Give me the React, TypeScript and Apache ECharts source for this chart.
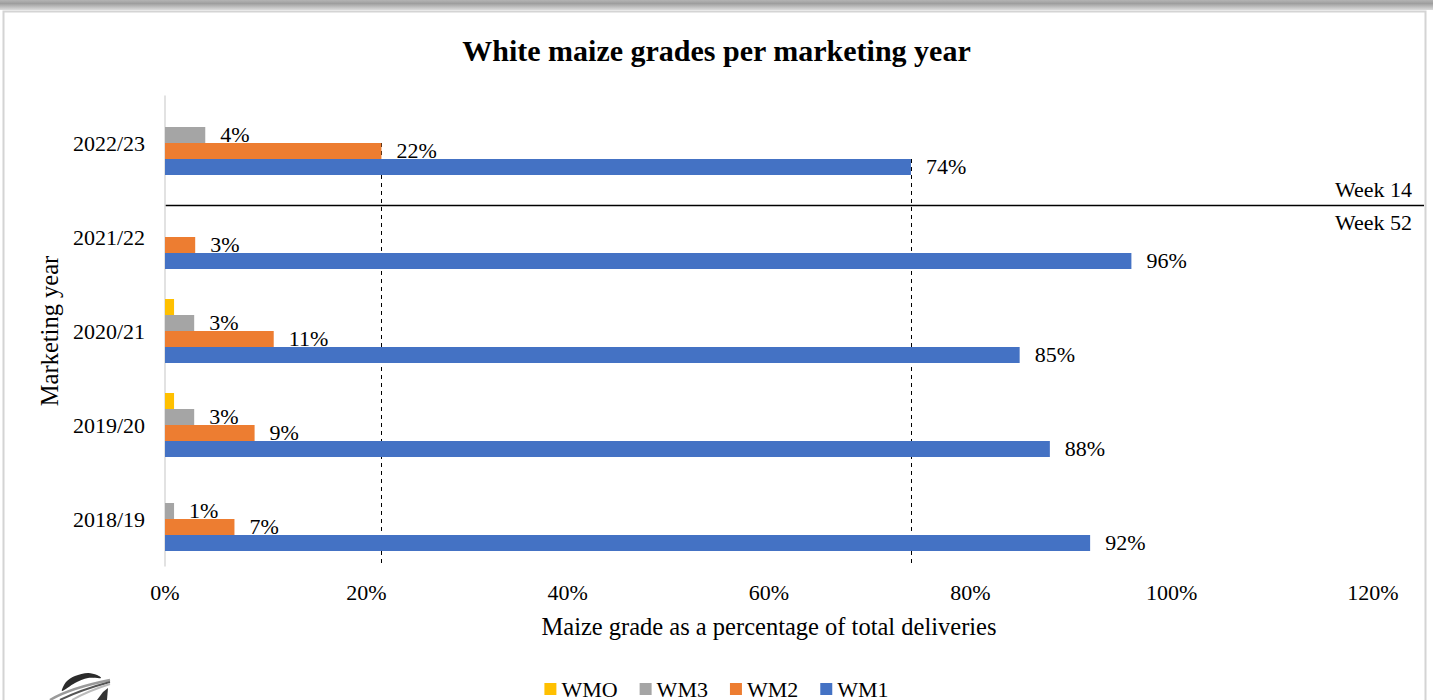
import React, { useEffect, useRef } from 'react';
import * as echarts from 'echarts';

const categories = ['2018/19', '2019/20', '2020/21', '2021/22', '2022/23'];
const wmo = [0, 0.9, 0.9, 0, 0];
const wm3 = [0.9, 2.9, 2.9, 0, 4.0];
const wm2 = [6.9, 8.9, 10.8, 3.0, 21.5];
const wm1 = [91.9, 87.9, 84.9, 96.0, 74.1];
const seriesNames = ['WMO', 'WM3', 'WM2', 'WM1'];
const seriesColors = ['#FFC000', '#A5A5A5', '#ED7D31', '#4472C4'];
const xTicks = [0, 20, 40, 60, 80, 100, 120];
const weekLabels = ['Week 14', 'Week 52'];
const titleText = 'White maize grades per marketing year';
const xName = 'Maize grade as a percentage of total deliveries';
const yName = 'Marketing year';

const FONT = "'Liberation Serif', 'Times New Roman', serif";
const BAR_W = 16;

export default function App() {
  const ref = useRef<HTMLDivElement>(null);

  useEffect(() => {
    if (!ref.current) return;
    const chart = echarts.init(ref.current, undefined, { renderer: 'svg' });
    const data = [wmo, wm3, wm2, wm1];

    const labelFmt = (p: any) => (p.value > 0 ? Math.round(p.value) + '%' : '');

    const option: any = {
      animation: false,
      backgroundColor: '#ffffff',
      title: {
        text: titleText,
        left: 'center',
        top: 30,
        textStyle: { fontFamily: FONT, fontSize: 30, fontWeight: 'bold', color: '#000', lineHeight: 30 },
      },
      legend: {
        data: seriesNames,
        left: 'center',
        top: 673,
        itemWidth: 12,
        itemHeight: 12,
        itemGap: 22,
        icon: 'rect',
        textStyle: { fontFamily: FONT, fontSize: 22, color: '#000' },
      },
      grid: { left: 165, right: 60, top: 96, bottom: 134, containLabel: false },
      xAxis: {
        type: 'value',
        min: xTicks[0],
        max: xTicks[xTicks.length - 1],
        interval: xTicks[1] - xTicks[0],
        axisLine: { show: false },
        axisTick: { show: false },
        splitLine: { show: false },
        axisLabel: { formatter: '{value}%', fontFamily: FONT, fontSize: 22, color: '#000', margin: 15 },
        name: xName,
        nameLocation: 'middle',
        nameGap: 48,
        nameTextStyle: { fontFamily: FONT, fontSize: 24.5, color: '#000' },
      },
      yAxis: {
        type: 'category',
        data: categories,
        axisLine: { show: true, lineStyle: { color: '#d9d9d9', width: 1.5 } },
        axisTick: { show: false },
        splitLine: { show: false },
        axisLabel: { fontFamily: FONT, fontSize: 22, color: '#000', margin: 20 },
        name: yName,
        nameLocation: 'middle',
        nameGap: 102,
        nameRotate: 90,
        nameTextStyle: { fontFamily: FONT, fontSize: 24.5, color: '#000' },
      },
      series: seriesNames.map((name, i) => ({
        name,
        type: 'bar',
        data: data[i],
        barWidth: BAR_W,
        barGap: '0%',
        itemStyle: { color: seriesColors[i] },
        label: {
          show: name !== 'WMO',
          position: 'right',
          distance: 15,
          offset: [0, -1],
          formatter: labelFmt,
          fontFamily: FONT,
          fontSize: 22,
          color: '#000',
        },
      })),
    };

    chart.setOption(option);

    const px = (v: number) => chart.convertToPixel({ xAxisIndex: 0 }, v) as number;
    const py = (c: string) => chart.convertToPixel({ yAxisIndex: 0 }, c) as number;
    const band = Math.abs(py(categories[0]) - py(categories[1]));
    const gridBottom = py(categories[0]) + band / 2;
    const last = categories.length - 1;
    const cTop = py(categories[last]);
    const wm2Top = cTop - 2 * BAR_W + 2 * BAR_W;
    const wm1Top = cTop - 2 * BAR_W + 3 * BAR_W;
    const x2 = Math.round(px(wm2[last])) + 0.5;
    const x1 = Math.round(px(wm1[last])) + 0.5;
    const weekY = Math.round(py(categories[last - 1]) - 2 * BAR_W) + 0.5;
    const axisX = px(0);

    chart.setOption({
      graphic: [
        {
          type: 'rect',
          silent: true,
          shape: { x: 0, y: 0, width: 1433, height: 10 },
          style: {
            fill: new echarts.graphic.LinearGradient(0, 0, 0, 1, [
              { offset: 0, color: '#b4b4b4' },
              { offset: 0.35, color: '#9e9e9e' },
              { offset: 1, color: '#dcdcdc' },
            ]),
          },
        },
        {
          type: 'rect',
          silent: true,
          shape: { x: 3.5, y: 11.5, width: 1422, height: 700 },
          style: { fill: 'none', stroke: '#d4d4d4', lineWidth: 2 },
        },
        {
          type: 'line',
          silent: true,
          shape: { x1: x2, y1: wm2Top, x2: x2, y2: gridBottom },
          style: { stroke: '#000', lineWidth: 1, lineDash: [4, 4] },
        },
        {
          type: 'line',
          silent: true,
          shape: { x1: x1, y1: wm1Top, x2: x1, y2: gridBottom },
          style: { stroke: '#000', lineWidth: 1, lineDash: [4, 4] },
        },
        {
          type: 'line',
          silent: true,
          shape: { x1: axisX, y1: weekY, x2: 1424, y2: weekY },
          style: { stroke: '#000', lineWidth: 1.3 },
        },
        {
          type: 'text',
          silent: true,
          x: 1412,
          y: weekY - 5,
          style: { text: weekLabels[0], fontFamily: FONT, fontSize: 22, fill: '#000', align: 'right', verticalAlign: 'bottom' },
        },
        {
          type: 'text',
          silent: true,
          x: 1412,
          y: weekY + 6,
          style: { text: weekLabels[1], fontFamily: FONT, fontSize: 22, fill: '#000', align: 'right', verticalAlign: 'top' },
        },
        {
          type: 'polygon',
          silent: true,
          shape: {
            points: [[62, 691], [66, 682], [75, 676], [88, 673], [97, 675], [101, 678], [88, 678], [75, 683]],
            smooth: 0.3,
          },
          style: { fill: '#2b2b2b' },
        },
        {
          type: 'bezierCurve',
          silent: true,
          shape: { x1: 50, y1: 700, x2: 110, y2: 680, cpx1: 70, cpy1: 688 },
          style: { stroke: '#9a9a9a', lineWidth: 2.5, fill: 'none' },
        },
        {
          type: 'bezierCurve',
          silent: true,
          shape: { x1: 60, y1: 700, x2: 110, y2: 682, cpx1: 80, cpy1: 690 },
          style: { stroke: '#555', lineWidth: 2, fill: 'none' },
        },
        {
          type: 'bezierCurve',
          silent: true,
          shape: { x1: 72, y1: 700, x2: 110, y2: 684, cpx1: 88, cpy1: 691 },
          style: { stroke: '#bbbbbb', lineWidth: 2, fill: 'none' },
        },
        {
          type: 'polygon',
          silent: true,
          shape: { points: [[97, 700], [103, 692], [108, 688], [107, 700]] },
          style: { fill: '#333' },
        },
      ],
    });

    return () => chart.dispose();
  }, []);

  return (
    <div
      ref={ref}
      style={{ position: 'fixed', left: 0, top: 0, width: 1433, height: 700, background: '#fff' }}
    />
  );
}
